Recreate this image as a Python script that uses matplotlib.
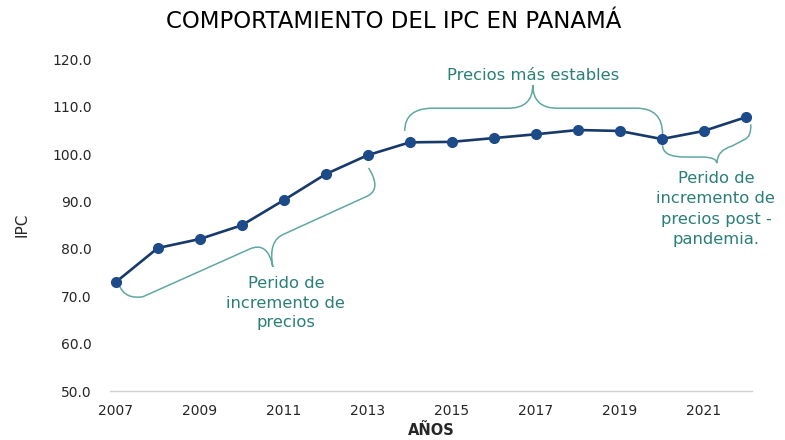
import matplotlib
matplotlib.use("Agg")
import matplotlib.pyplot as plt
from matplotlib.path import Path
from matplotlib.patches import PathPatch

# datos del IPC
years = list(range(2007, 2023))
ipc = [73.0, 80.2, 82.1, 85.0, 90.3, 95.8, 99.8, 102.5, 102.6, 103.4,
       104.2, 105.1, 104.9, 103.2, 104.9, 107.8]
xticks = list(range(2007, 2023, 2))
yticks = [50, 60, 70, 80, 90, 100, 110, 120]

title = "COMPORTAMIENTO DEL IPC EN PANAMÁ"
note_rise = "Perido de\nincremento de\nprecios"
note_stable = "Precios más estables"
note_post = "Perido de\nincremento de\nprecios post -\npandemia."

line_color = "#173a6a"
teal = "#2a7f78"
brace_color = "#5fa8a0"

plt.rcParams["font.family"] = ["DejaVu Sans"]

fig = plt.figure(figsize=(7.85, 4.4), dpi=100)
ax = fig.add_axes([0.140, 0.111, 0.818, 0.754])

ax.plot(years, ipc, "-o", color=line_color, lw=1.9, ms=7,
        markerfacecolor="#1d4b8a", markeredgecolor="#1d4b8a", zorder=3)

ax.set_xlim(2006.86, 2022.15)
ax.set_ylim(50, 120)
ax.set_xticks(xticks)
ax.set_yticks(yticks)
ax.set_yticklabels(["%.1f" % v for v in yticks])
ax.tick_params(axis="both", length=0, labelsize=10, colors="#262626")
ax.tick_params(axis="y", pad=13)
ax.tick_params(axis="x", pad=9)
for s in ["top", "right", "left"]:
    ax.spines[s].set_visible(False)
ax.spines["bottom"].set_color("#d0d0d0")
ax.spines["bottom"].set_linewidth(1.0)

ax.set_ylabel("IPC", fontsize=11, color="#262626", labelpad=16)
ax.set_xlabel("AÑOS", fontsize=10.5, fontweight="bold", color="#262626", labelpad=4)
fig.text(0.502, 0.950, title, ha="center", va="center", fontsize=16.5, color="black")


# llaves de anotacion (curvas cuadraticas en coordenadas de datos)
def brace(pts):
    codes = [Path.MOVETO]
    verts = [pts[0][1]]
    for kind, p in pts[1:]:
        if kind == "L":
            codes.append(Path.LINETO)
            verts.append(p)
        else:
            codes += [Path.CURVE3, Path.CURVE3]
            verts += [p[0], p[1]]
    ax.add_patch(PathPatch(Path(verts, codes), fill=False, ec=brace_color,
                           lw=1.1, clip_on=False, zorder=2))


brace([("M", (2013.88, 104.9)),
       ("Q", [(2013.88, 109.7), (2014.55, 109.7)]),
       ("L", (2016.35, 109.7)),
       ("Q", [(2016.93, 109.7), (2016.93, 114.6)]),
       ("Q", [(2016.93, 109.7), (2017.51, 109.7)]),
       ("L", (2019.40, 109.7)),
       ("Q", [(2020.02, 109.7), (2020.02, 104.2)])])

brace([("M", (2020.02, 101.9)),
       ("Q", [(2020.02, 99.4), (2020.55, 99.4)]),
       ("L", (2020.95, 99.4)),
       ("Q", [(2021.31, 99.4), (2021.31, 98.1)]),
       ("Q", [(2021.33, 100.9), (2021.67, 101.7)]),
       ("L", (2021.95, 103.0)),
       ("Q", [(2022.14, 103.6), (2022.12, 106.3)])])

brace([("M", (2007.10, 72.0)),
       ("Q", [(2007.24, 69.4), (2007.64, 69.9)]),
       ("L", (2010.19, 80.0)),
       ("Q", [(2010.62, 81.7), (2010.74, 76.2)]),
       ("Q", [(2010.62, 81.9), (2011.02, 83.2)]),
       ("L", (2013.00, 91.2)),
       ("Q", [(2013.33, 92.7), (2013.02, 97.1)])])

ax.text(2011.05, 68.6, note_rise, ha="center", va="center", fontsize=11.8,
        color=teal, linespacing=1.4)
ax.text(2016.93, 116.7, note_stable, ha="center", va="center", fontsize=11.8,
        color=teal)
ax.text(2021.29, 88.4, note_post, ha="center", va="center", fontsize=11.8,
        color=teal, linespacing=1.45, clip_on=False)

fig.savefig("out.png", dpi=100)
